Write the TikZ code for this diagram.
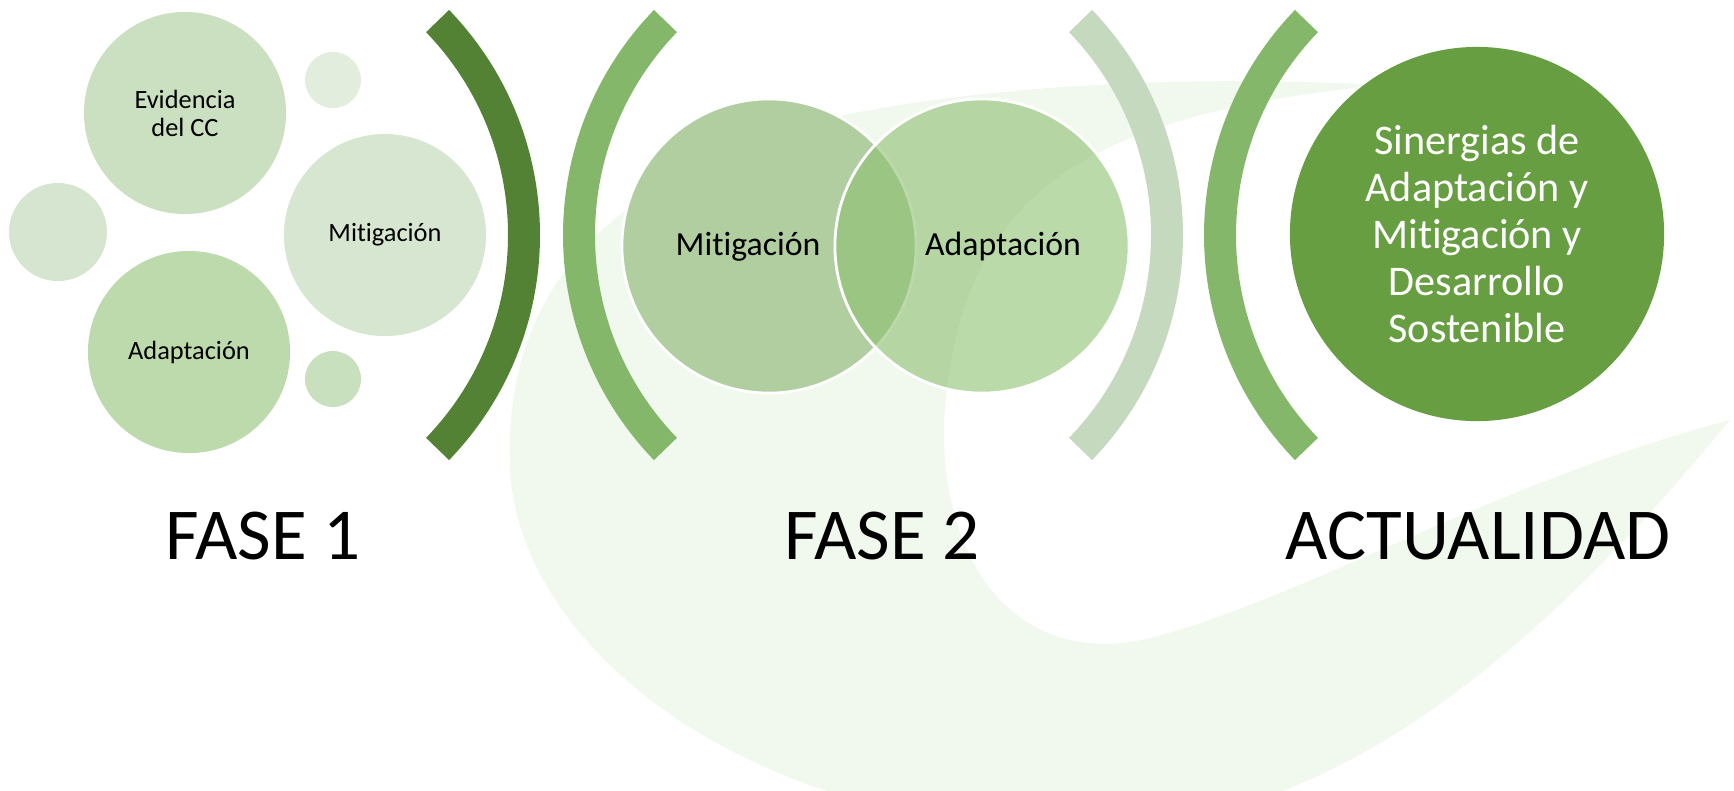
\documentclass[tikz,border=0pt]{standalone}
\usepackage{fontspec}
\setmainfont[Ligatures=NoCommon]{Carlito}
\usetikzlibrary{calc}
\definecolor{bgGreen}{RGB}{241,248,238}
\definecolor{arcDark}{RGB}{84,130,53}
\definecolor{arcMid}{RGB}{133,183,107}
\definecolor{arcPale}{RGB}{196,217,189}
\definecolor{evidColor}{RGB}{203,224,192}
\definecolor{mitColor}{RGB}{215,230,208}
\definecolor{adaColor}{RGB}{189,218,173}
\definecolor{dotPale}{RGB}{226,237,221}
\definecolor{dotSide}{RGB}{214,229,207}
\definecolor{dotLow}{RGB}{200,224,189}
\definecolor{vennLeft}{RGB}{177,206,161}
\definecolor{vennRight}{RGB}{138,191,108}
\definecolor{nowColor}{RGB}{102,158,65}
\tikzstyle{bubble} = [circle, inner sep=0pt, text centered, align=center]
\tikzstyle{smallText} = [font=\fontsize{7.5}{8}\selectfont]
\tikzstyle{vennText} = [anchor=base, font=\fontsize{9.6}{11}\selectfont]
\tikzstyle{phase} = [anchor=base, font=\fontsize{20.8}{25}\selectfont]
\newcommand{\bracketArc}[4]{\fill[#4] (#1) ++(#2:324) arc[start angle=#2, end angle=#3, radius=324] -- ($(#1)+(#3:292)$) arc[start angle=#3, end angle=#2, radius=292] -- cycle;}

\begin{document}
\begin{tikzpicture}[x=0.01cm, y=-0.01cm]
			\useasboundingbox (0,0) rectangle (1734,790);
			\begin{scope}
				\clip (0,0) rectangle (1734,790);
				\fill[bgGreen] (1730,420) .. controls (1500,700) and (1300,830) .. (1080,830) .. controls (750,830) and (520,650) .. (510,470) .. controls (505,330) and (560,240) .. (700,160) .. controls (820,100) and (1100,70) .. (1380,85) .. controls (1100,115) and (960,180) .. (944,420) .. controls (940,580) and (1030,668) .. (1150,638) .. controls (1300,600) and (1500,480) .. (1730,420) -- cycle;
			\end{scope}

			\node (evid) [bubble, smallText, minimum size=2.02cm, fill=evidColor] at (185,113) {Evidencia\\del CC};
			\node (dotTop) [bubble, minimum size=0.56cm, fill=dotPale] at (333,80) {};
			\node (dotSide) [bubble, minimum size=0.98cm, fill=dotSide] at (58,232) {};
			\node (mitOne) [bubble, smallText, minimum size=2.02cm, fill=mitColor] at (385,235) {Mitigación};
			\node (adaOne) [bubble, smallText, minimum size=2.02cm, fill=adaColor] at (189,352) {Adaptación};
			\node (dotLow) [bubble, minimum size=0.56cm, fill=dotLow] at (333,379) {};

			\bracketArc{216,235}{-44}{44}{arcDark}
			\bracketArc{887,235}{136}{224}{arcMid}

			\node (vennL) [bubble, minimum size=2.94cm, fill=vennLeft, draw=white, line width=0.8pt] at (769,246) {};
			\node (vennR) [bubble, minimum size=2.94cm, fill=vennRight, fill opacity=0.58, draw=white, line width=0.8pt] at (982,246) {};
			\node (mitTwo) [vennText] at (748,255) {Mitigación};
			\node (adaTwo) [vennText] at (1003,255) {Adaptación};

			\bracketArc{859,235}{-44}{44}{arcPale}
			\bracketArc{1528,235}{136}{224}{arcMid}

			\node (now) [bubble, minimum size=3.74cm, fill=nowColor, text=white, font=\fontsize{12}{13.3}\selectfont] at (1477,234) {Sinergias de\\Adaptación y\\Mitigación y\\Desarrollo\\Sostenible};

			\node (faseOne) [phase] at (263,559) {FASE 1};
			\node (faseTwo) [phase] at (882,559) {FASE 2};
			\node (actual) [phase] at (1478,559) {ACTUALIDAD};
\end{tikzpicture}
\end{document}
